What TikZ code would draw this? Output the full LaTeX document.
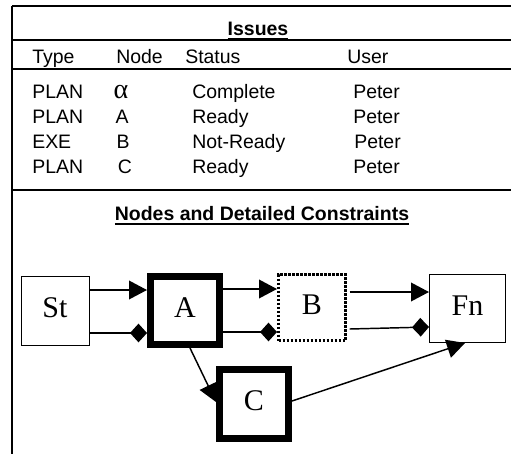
\documentclass[tikz,border=0pt]{standalone}
\usepackage{fontspec}
\setmainfont{Liberation Sans}
\newfontfamily\boxfont{Liberation Serif}
\usetikzlibrary{arrows.meta}
\newcommand{\heavyul}[1]{\setbox0\hbox{#1}\rlap{\rule[-3.4pt]{\wd0}{1.4pt}}\box0}

\begin{document}
\begin{tikzpicture}[x=0.75pt,y=0.75pt,yscale=-1,xscale=1,
  tabtext/.style={anchor=base west,inner sep=0pt,font=\fontsize{14.6}{17}\selectfont},
  tabcell/.style={anchor=base,inner sep=0pt,font=\fontsize{14.6}{17}\selectfont},
  heading/.style={anchor=base,inner sep=0pt,font=\fontsize{14.6}{17}\selectfont\bfseries},
  taskbox/.style={draw,inner sep=0pt,font=\boxfont\fontsize{22.5}{24}\selectfont,text height=16pt,text depth=6pt},
  thinbox/.style={taskbox,line width=0.75pt},
  heavybox/.style={taskbox,line width=5.25pt},
  dotbox/.style={taskbox,line width=2.25pt,dash pattern=on 1.6pt off 1.4pt},
  flow/.style={-{Triangle[length=13.5pt,width=14pt]},line width=1.1pt},
  tie/.style={-{Diamond[length=12.75pt,width=14pt]},line width=1.1pt}]
\useasboundingbox (0,0) rectangle (511,454);

%Straight Lines: frame
\draw [line width=1.5pt]  (12,6) -- (12,454) ;
\draw [line width=1.1pt]  (12,6) -- (511,6) ;
\draw [line width=1.1pt]  (12,40) -- (511,40) ;
\draw [line width=1.6pt]  (12,69) -- (511,69) ;
\draw [line width=2pt]  (12,190) -- (511,190) ;

% Text Node: titles
\node [heading] (issues) at (258,35) {\heavyul{Issues}};
\node [heading] (ndc) at (262,220) {\heavyul{Nodes and Detailed Constraints}};

% Text Node: header row
\node [tabtext] (hType) at (32,63) {Type};
\node [tabtext] (hNode) at (116,63) {Node};
\node [tabtext] (hStatus) at (185,63) {Status};
\node [tabtext] (hUser) at (347,63) {User};

% Text Node: rows
\node [tabtext] (t1) at (32,98) {PLAN};
\node [tabcell] (n1) at (121,98) {\boxfont\fontsize{21}{22}\selectfont α};
\node [tabtext] (s1) at (192,98) {Complete};
\node [tabtext] (u1) at (353,98) {Peter};

\node [tabtext] (t2) at (32,123) {PLAN};
\node [tabcell] (n2) at (122,123) {A};
\node [tabtext] (s2) at (192,123) {Ready};
\node [tabtext] (u2) at (353,123) {Peter};

\node [tabtext] (t3) at (32,148) {EXE};
\node [tabcell] (n3) at (123,148) {B};
\node [tabtext] (s3) at (192,148) {Not-Ready};
\node [tabtext] (u3) at (354,148) {Peter};

\node [tabtext] (t4) at (32,173) {PLAN};
\node [tabcell] (n4) at (125,173) {C};
\node [tabtext] (s4) at (192,173) {Ready};
\node [tabtext] (u4) at (353,173) {Peter};

% Shape: task boxes
\node [thinbox, minimum width=51pt, minimum height=51.75pt] (St) at (55,310.5) {St};
\node [heavybox, minimum width=51.75pt, minimum height=51pt] (A) at (185,310.5) {A};
\node [dotbox, minimum width=50.25pt, minimum height=49.5pt] (B) at (312,307.5) {B};
\node [thinbox, minimum width=57pt, minimum height=51pt] (Fn) at (467.5,308.5) {Fn};
\node [heavybox, minimum width=51.75pt, minimum height=51.75pt] (C) at (254,404) {C};

% Connectors
\draw [flow] (St.east |- 0,290) -- (A.west |- 0,290) ;
\draw [tie] (St.east |- 0,333) -- (A.west |- 0,333) ;
\draw [flow] (A.east |- 0,289) -- (B.west |- 0,289) ;
\draw [tie] (A.east |- 0,332) -- (B.west |- 0,332) ;
\draw [flow] ([xshift=2pt]B.east |- 0,292) -- (Fn.west |- 0,292) ;
\draw [tie] ([xshift=2pt]B.east |- 0,329) -- (Fn.west |- 0,327) ;
\draw [flow] (A.south -| 190,0) -- (C.west |- 0,402) ;
\draw [flow] (C.east |- 0,401) -- (Fn.south -| 465,0) ;

\end{tikzpicture}
\end{document}
